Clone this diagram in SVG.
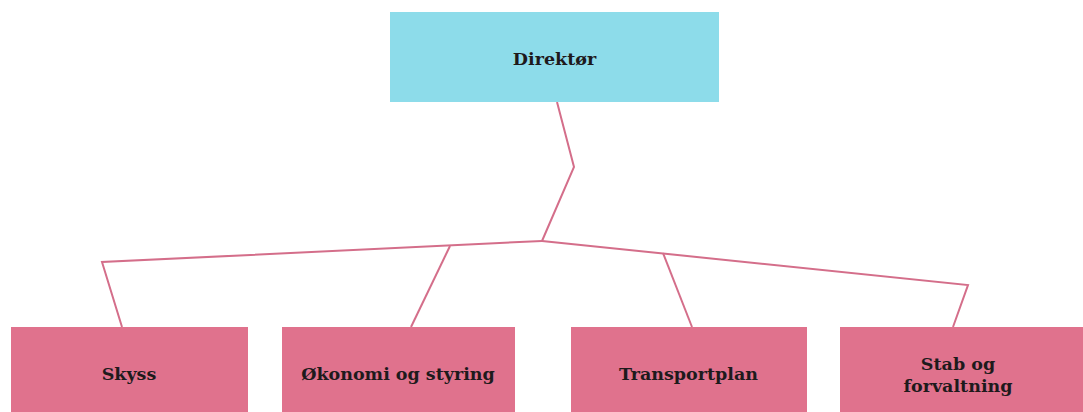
<svg xmlns="http://www.w3.org/2000/svg" width="1083" height="412" viewBox="0 0 1083 412">
<style>
.top{fill:#8DDCEA}
.sub{fill:#E0728D}
.lbl{font-family:"DejaVu Serif","Liberation Serif",serif;font-weight:bold;font-size:17.5px;fill:#1e1a1c;text-anchor:middle}
.con{fill:none;stroke:#D46E8A;stroke-width:2;stroke-linejoin:miter}
</style>
<rect width="1083" height="412" fill="#ffffff"/>
<g id="connectors">
<polyline class="con" points="557,102 574,167 542,241"/>
<polyline class="con" points="542,241 102,262 122,327"/>
<polyline class="con" points="450,246 411,327"/>
<polyline class="con" points="542,241 968,285 953,327"/>
<polyline class="con" points="663,253 692,327"/>
</g>
<g id="node-direktor">
<rect class="top" x="390" y="12" width="329" height="90"/>
<text class="lbl" x="554.5" y="65">Direktør</text>
</g>
<g id="node-skyss">
<rect class="sub" x="11" y="327" width="237" height="90"/>
<text class="lbl" x="129" y="380">Skyss</text>
</g>
<g id="node-okonomi">
<rect class="sub" x="282" y="327" width="233" height="90"/>
<text class="lbl" x="398" y="380">Økonomi og styring</text>
</g>
<g id="node-transportplan">
<rect class="sub" x="571" y="327" width="236" height="90"/>
<text class="lbl" x="688.5" y="380">Transportplan</text>
</g>
<g id="node-stab">
<rect class="sub" x="840" y="327" width="250" height="90"/>
<text class="lbl" x="958" y="370">Stab og</text>
<text class="lbl" x="958" y="392">forvaltning</text>
</g>
</svg>
